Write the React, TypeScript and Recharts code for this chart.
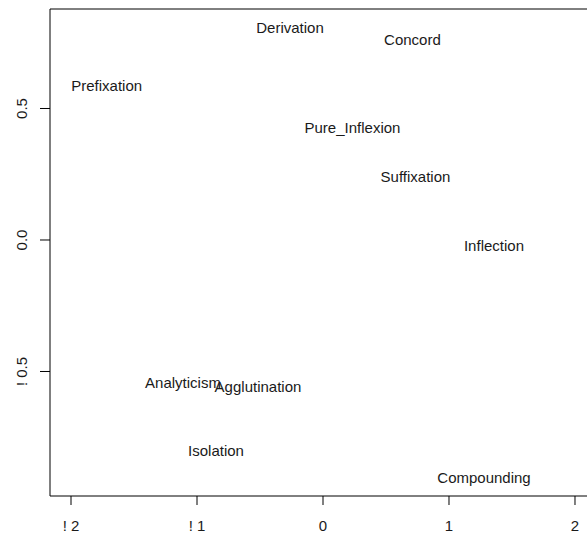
import { ReferenceArea, Scatter, ScatterChart, XAxis, YAxis } from "recharts";

const labels = [
  "Derivation",
  "Concord",
  "Prefixation",
  "Pure_Inflexion",
  "Suffixation",
  "Inflection",
  "Analyticism",
  "Agglutination",
  "Isolation",
  "Compounding",
];
const dim1 = [-0.262, 0.71, -1.717, 0.234, 0.734, 1.357, -1.111, -0.516, -0.849, 1.278];
const dim2 = [0.806, 0.76, 0.586, 0.426, 0.24, -0.023, -0.544, -0.559, -0.802, -0.905];

const xTicks = [-2, -1, 0, 1, 2];
const xTickLabels = ["! 2", "! 1", "0", "1", "2"];
const yTicks = [0.5, 0, -0.5];
const yTickLabels = ["0.5", "0.0", "! 0.5"];

const xDomain: [number, number] = [-2.1667, 2.1667];
const yDomain: [number, number] = [-0.9734, 0.8783];

const FONT = "'Liberation Sans', Arial, sans-serif";

const points = labels.map((name, i) => ({ name, x: dim1[i], y: dim2[i] }));

function LabelShape(props: any) {
  const { cx, cy, payload } = props;
  return (
    <text x={cx} y={cy} dy="0.35em" textAnchor="middle" fontFamily={FONT} fontSize={15} fill="#1a1a1a">
      {payload.name}
    </text>
  );
}

function XTick(props: any) {
  const { x, y, payload } = props;
  const i = xTicks.indexOf(payload.value);
  return (
    <text x={x} y={y + 24} textAnchor="middle" fontFamily={FONT} fontSize={15} fill="#1a1a1a">
      {xTickLabels[i]}
    </text>
  );
}

function YTick(props: any) {
  const { y, payload } = props;
  const i = yTicks.indexOf(payload.value);
  return (
    <text
      x={0}
      y={0}
      transform={`translate(27, ${y}) rotate(-90)`}
      textAnchor="middle"
      fontFamily={FONT}
      fontSize={15}
      fill="#1a1a1a"
    >
      {yTickLabels[i]}
    </text>
  );
}

export default function App() {
  return (
    <div style={{ position: "fixed", top: 0, left: 0, width: 587, height: 536, overflow: "hidden", background: "#fff" }}>
      <ScatterChart width={620} height={536} margin={{ top: 9, right: 24, bottom: 0, left: 0 }}>
        <XAxis
          type="number"
          dataKey="x"
          domain={xDomain}
          ticks={xTicks}
          allowDataOverflow
          height={40}
          axisLine={false}
          tickSize={9}
          tickLine={{ stroke: "#000" }}
          tick={<XTick />}
          interval={0}
        />
        <YAxis
          type="number"
          dataKey="y"
          domain={yDomain}
          ticks={yTicks}
          allowDataOverflow
          width={50}
          axisLine={false}
          tickSize={10}
          tickLine={{ stroke: "#000" }}
          tick={<YTick />}
          interval={0}
        />
        <ReferenceArea
          x1={xDomain[0]}
          x2={xDomain[1]}
          y1={yDomain[0]}
          y2={yDomain[1]}
          fill="none"
          stroke="#000"
          strokeWidth={1}
          ifOverflow="visible"
        />
        <Scatter data={points} shape={<LabelShape />} isAnimationActive={false} />
      </ScatterChart>
    </div>
  );
}
